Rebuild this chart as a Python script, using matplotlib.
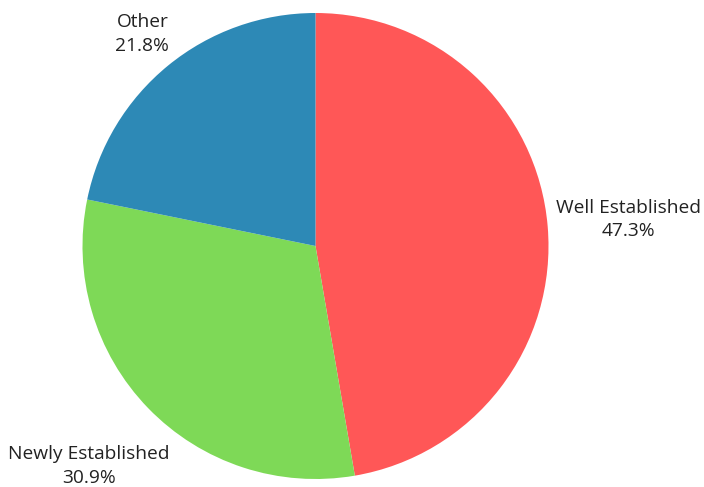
import numpy as np
import matplotlib
matplotlib.use("Agg")
import matplotlib.pyplot as plt

labels = ["Well Established", "Newly Established", "Other"]
shares = [47.3, 30.9, 21.8]
colors = ["#FF5757", "#7ED957", "#2D89B6"]
label_dist = [1.35, 1.355, 1.175]

plt.rcParams['font.family'] = ['Open Sans', 'DejaVu Sans']

fig = plt.figure(figsize=(7.04, 4.87), dpi=100)
# pie centre ~ (315.5, 246) px, radius ~ 233 px
cx, cy, r = 315.5, 246.0, 233.0
ax = fig.add_axes([(cx - r) / 704, (487 - cy - r) / 487, 2 * r / 704, 2 * r / 487])
wedges, _ = ax.pie(shares, colors=colors, startangle=90, counterclock=False,
                   radius=1.0, wedgeprops=dict(linewidth=0))
ax.set_xlim(-1, 1)
ax.set_ylim(-1, 1)
ax.set_aspect('equal')

for w, lab, s, d in zip(wedges, labels, shares, label_dist):
    ang = np.deg2rad((w.theta1 + w.theta2) / 2)
    ax.text(d * np.cos(ang), d * np.sin(ang), f"{lab}\n{s:.1f}%",
            ha='center', va='center', fontsize=13.8, color='#222222',
            linespacing=1.4, clip_on=False)

fig.savefig("out.png", dpi=100, facecolor='white')
